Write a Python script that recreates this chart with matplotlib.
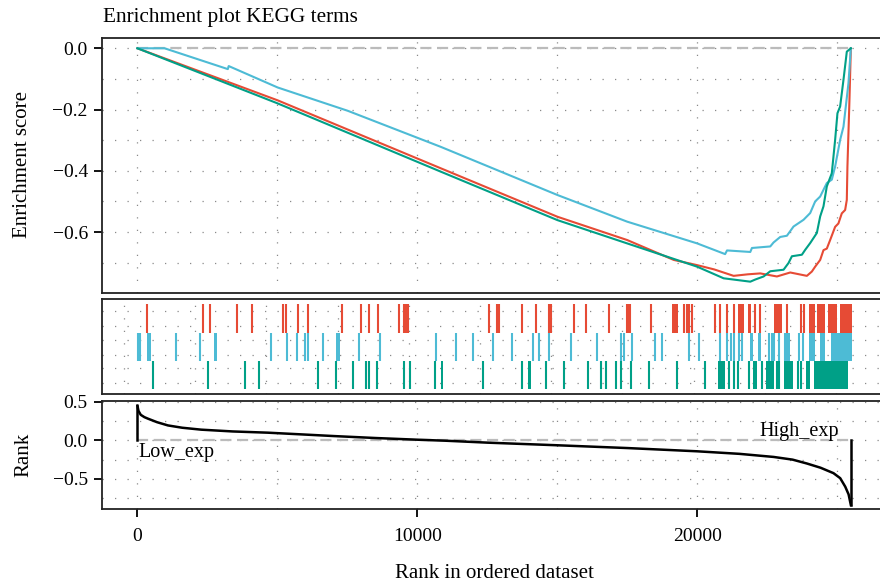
import numpy as np
import matplotlib.pyplot as plt
from matplotlib.ticker import FixedLocator

plt.rcParams['font.family'] = ['Liberation Serif', 'DejaVu Serif']

n_genes = 25500

# running enrichment score (rank, score)
red_rank = [0, 5010, 10840, 15000, 17490, 19155, 19990, 20600, 21294, 21800, 22246,
            22840, 23315, 23910, 24087, 24206, 24385, 24503, 24622, 24741, 24919,
            25036, 25157, 25276, 25336, 25358, 25430, 25480]
red_es = [0, -0.170, -0.392, -0.550, -0.626, -0.691, -0.708, -0.722, -0.743, -0.738, -0.735,
          -0.745, -0.732, -0.743, -0.729, -0.713, -0.691, -0.659, -0.654, -0.626, -0.583,
          -0.572, -0.539, -0.528, -0.495, -0.387, -0.170, 0]

blue_rank = [0, 970, 3230, 3260, 5010, 7510, 10840, 15000, 17490, 19990, 20990, 21058,
             21889, 21948, 22602, 22720, 22959, 23197, 23433, 23790, 24028, 24206,
             24385, 24622, 24800, 24919, 25098, 25217, 25395, 25480]
blue_es = [0, 0, -0.068, -0.058, -0.128, -0.204, -0.322, -0.479, -0.566, -0.637, -0.672, -0.660,
           -0.665, -0.652, -0.647, -0.634, -0.616, -0.612, -0.582, -0.560, -0.538, -0.500,
           -0.484, -0.440, -0.429, -0.386, -0.299, -0.256, -0.114, 0]

green_rank = [0, 5010, 10840, 15000, 17490, 19990, 20938, 21889, 22067, 22364, 22602,
              23077, 23255, 23375, 23732, 23850, 24028, 24266, 24385, 24503, 24622,
              24800, 24919, 25002, 25098, 25217, 25336, 25480]
green_es = [0, -0.180, -0.403, -0.561, -0.637, -0.713, -0.751, -0.762, -0.755, -0.745, -0.728,
            -0.723, -0.701, -0.679, -0.674, -0.658, -0.636, -0.603, -0.549, -0.516, -0.451,
            -0.408, -0.299, -0.212, -0.190, -0.103, -0.011, 0]

# gene hits: single positions and dense blocks (start, end)
red_hits = [350, 2360, 2580, 3560, 4100, 5190, 5290, 5750, 6110, 7300, 7990, 8280,
            8590, 9330, 9510, 9590, 9670, 12540, 12860, 12920, 13730, 14220, 14700,
            14760, 15590, 16030, 16840, 17490, 17550, 17610, 18360, 19510, 19630,
            19710, 19810, 20620, 20820, 21060, 21290, 22060, 22220, 23190, 23690, 23800]
red_blocks = [(19110, 19320), (21450, 21650), (21790, 21930), (22720, 23020),
              (24000, 24200), (24260, 24560), (24680, 24980), (25100, 25510)]

blue_hits = [10, 100, 1390, 2220, 4780, 5340, 5690, 6000, 6110, 6620, 7930, 8660,
             10680, 11370, 11970, 12690, 13380, 14140, 14340, 14700, 15480, 16420,
             17270, 17390, 17670, 18470, 18740, 19690, 20040, 20820, 21050, 21190,
             21310, 21470, 21590, 22540, 22660, 22720, 22900, 23120, 23620, 23770]
blue_blocks = [(330, 470), (2740, 2850), (7080, 7220), (21870, 21970), (22170, 22270),
               (23170, 23310), (23970, 24200), (24380, 24560), (24780, 25510)]

green_hits = [560, 2520, 3850, 4360, 6440, 7090, 7690, 8160, 8280, 8560, 9530, 9740,
              10630, 12350, 13750, 14600, 15230, 16100, 16540, 16720, 17110, 17270,
              17640, 18260, 19280, 20260, 21120, 21300, 21440, 21830, 22310, 22840,
              22930, 23580, 23700]
green_blocks = [(10840, 10920), (13950, 14050), (20720, 20990), (21990, 22140),
                (22450, 22720), (23100, 23420), (23870, 24030), (24150, 25380)]

# ranked list metric
metric_rank = [0, 40, 120, 250, 380, 700, 1090, 1600, 2280, 3400, 4660, 5800, 7030,
               8500, 10000, 11000, 12500, 15000, 17500, 19990, 21500, 22720, 23400,
               23910, 24400, 24860, 25100, 25280, 25400, 25480]
metric = [0.45, 0.38, 0.33, 0.30, 0.28, 0.235, 0.193, 0.163, 0.138, 0.115, 0.099, 0.078,
          0.055, 0.03, 0.008, -0.005, -0.03, -0.064, -0.100, -0.142, -0.175, -0.215, -0.25,
          -0.30, -0.355, -0.425, -0.49, -0.60, -0.70, -0.838]

c_red = '#E64B35'
c_blue = '#4DBBD5'
c_green = '#00A087'

xlim = (-n_genes * 0.05, n_genes * 1.05)
grid_kw = dict(color='#8a8a8a', linestyle=(0, (1, 9)), linewidth=0.9)


def style_axes(ax):
    for s in ax.spines.values():
        s.set_linewidth(1.3)
        s.set_color('#222222')
    ax.spines['right'].set_visible(False)
    ax.tick_params(which='major', length=6, width=1.3, labelsize=14, pad=4)
    ax.tick_params(which='minor', length=0)
    ax.grid(True, which='both', **grid_kw)
    ax.set_axisbelow(True)
    ax.set_xlim(*xlim)


fig = plt.figure(figsize=(8.8, 5.88), dpi=100)
left = 101.7 / 880
width = 785.4 / 880

ax1 = fig.add_axes([left, 1 - 292.7 / 588, width, (292.7 - 38.3) / 588])
ax2 = fig.add_axes([left, 1 - 394.3 / 588, width, (394.3 - 299.3) / 588])
ax3 = fig.add_axes([left, 1 - 509.0 / 588, width, (509.0 - 400.7) / 588])

# top: running enrichment score
style_axes(ax1)
ax1.plot([0, n_genes], [0, 0], color='#bbbbbb', lw=1.6, dashes=(5, 2.5), zorder=2)
ax1.plot(red_rank, red_es, color=c_red, lw=1.5, zorder=3)
ax1.plot(blue_rank, blue_es, color=c_blue, lw=1.5, zorder=3)
ax1.plot(green_rank, green_es, color=c_green, lw=1.5, zorder=3)
ax1.set_ylim(-0.798, 0.0326)
ax1.set_yticks([0, -0.2, -0.4, -0.6])
ax1.set_yticklabels(['0.0', '\u22120.2', '\u22120.4', '\u22120.6'])
ax1.yaxis.set_minor_locator(FixedLocator([-0.1, -0.3, -0.5, -0.7]))
ax1.set_xticks([0, 10000, 20000])
ax1.xaxis.set_minor_locator(FixedLocator([5000, 15000, 25000]))
ax1.tick_params(axis='x', length=0, labelbottom=False)

# middle: hit positions
style_axes(ax2)
ax2.grid(False)
ax2.set_xticks(np.arange(-474, 27000, 2542))
ax2.set_yticks([0.22, 0.75, 1.22, 1.75, 2.22, 2.75])
ax2.grid(True, which='major', **grid_kw)
ax2.tick_params(length=0, labelbottom=False, labelleft=False)
for row, hits, blocks, col in [(2, red_hits, red_blocks, c_red),
                               (1, blue_hits, blue_blocks, c_blue),
                               (0, green_hits, green_blocks, c_green)]:
    ax2.vlines(hits, row, row + 1, color=col, lw=1.5, zorder=3)
    ax2.broken_barh([(a, b - a) for a, b in blocks], (row, 1), color=col,
                    linewidth=0, zorder=3)
ax2.set_ylim(-0.17, 3.17)

# bottom: ranked list metric
style_axes(ax3)
ax3.plot([0, n_genes], [0, 0], color='#bbbbbb', lw=1.6, dashes=(5, 2.5), zorder=2)
ax3.plot(metric_rank, metric, color='black', lw=1.8, zorder=3)
ax3.plot([0, 0], [0, metric[0]], color='black', lw=1.8, zorder=3)
ax3.plot([metric_rank[-1]] * 2, [0, metric[-1]], color='black', lw=1.8, zorder=3)
ax3.set_ylim(-0.889, 0.513)
ax3.set_yticks([0.5, 0, -0.5])
ax3.set_yticklabels(['0.5', '0.0', '\u22120.5'])
ax3.yaxis.set_minor_locator(FixedLocator([0.25, -0.25, -0.75]))
ax3.set_xticks([0, 10000, 20000])
ax3.set_xticklabels(['0', '10000', '20000'])
ax3.xaxis.set_minor_locator(FixedLocator([5000, 15000, 25000]))
ax3.tick_params(axis='x', pad=8)
ax3.text(30, -0.03, 'Low_exp', ha='left', va='top', fontsize=14.5)
ax3.text(25050, -0.01, 'High_exp', ha='right', va='bottom', fontsize=14.5)

fig.text(103 / 880, 1 - 21.7 / 588, 'Enrichment plot KEGG terms', fontsize=15.3,
         ha='left', va='baseline')
fig.text(23 / 880, 1 - 165 / 588, 'Enrichment score', fontsize=15, rotation=90,
         ha='center', va='center')
fig.text(24 / 880, 1 - 455 / 588, 'Rank', fontsize=15, rotation=90,
         ha='center', va='center')
fig.text(494 / 880, 1 - 573 / 588, 'Rank in ordered dataset', fontsize=15,
         ha='center', va='center')

fig.savefig('out.png', dpi=100)
